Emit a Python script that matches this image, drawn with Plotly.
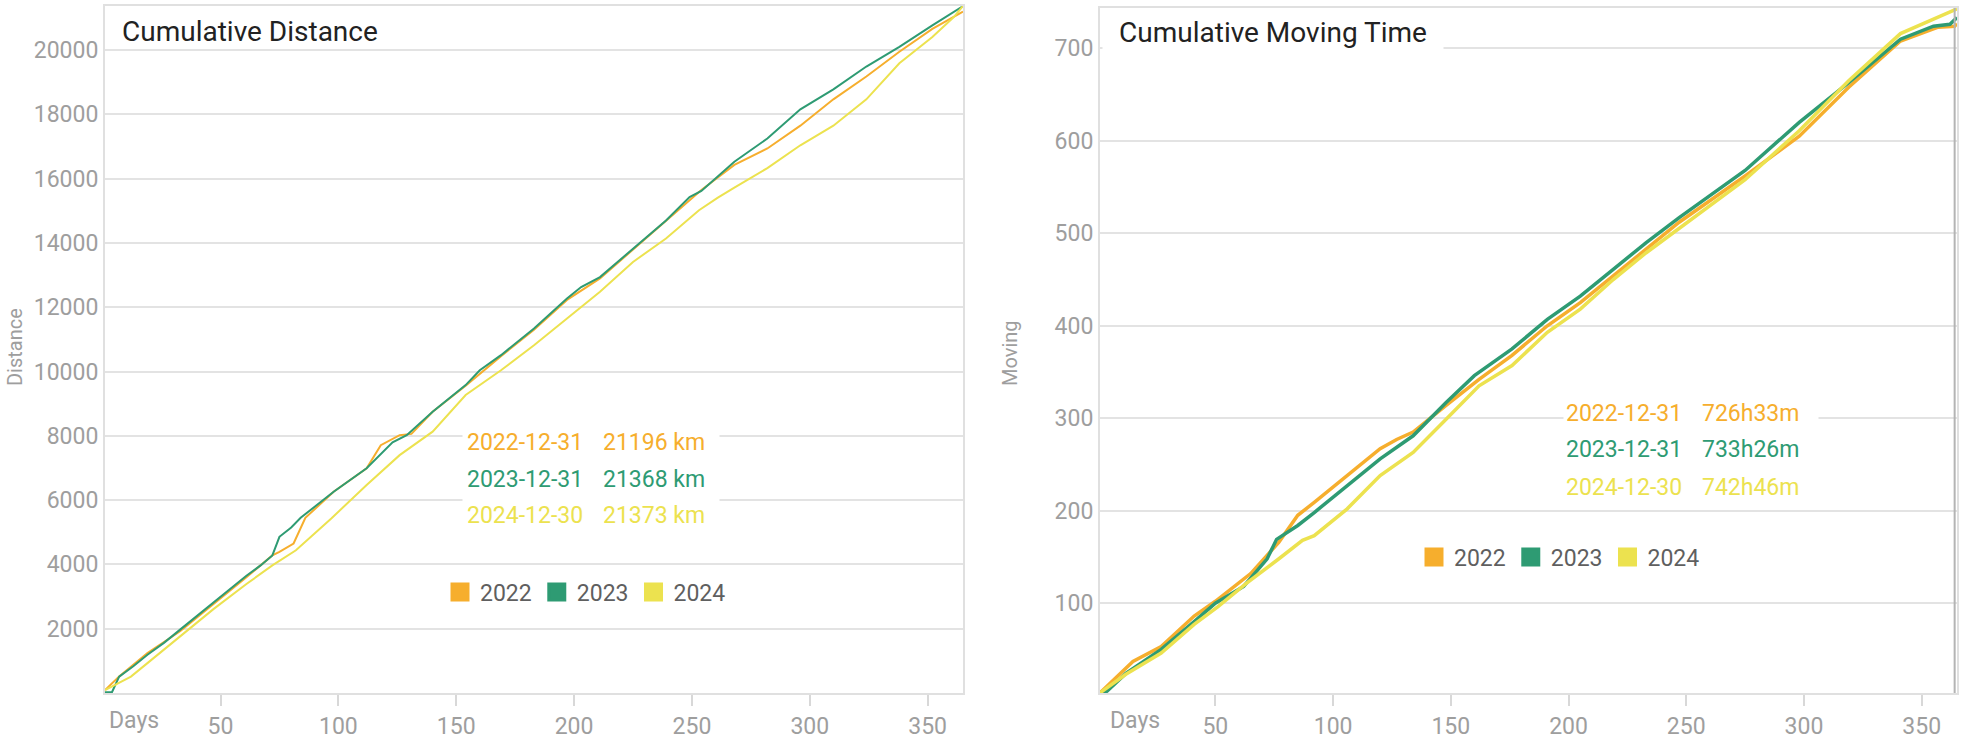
import plotly.graph_objects as go

W, H = 1978, 746

years = ["2022", "2023", "2024"]
colors = ["#F6AE2D", "#2E9B73", "#ECE24F"]
end_dates = ["2022-12-31", "2023-12-31", "2024-12-30"]
dist_totals = ["21196 km", "21368 km", "21373 km"]
time_totals = ["726h33m", "733h26m", "742h46m"]

# ---- Cumulative distance (km) ----
dist_days_2022 = [1, 7, 13, 19, 33, 47, 61, 72, 75, 81, 84, 86, 98, 112, 118, 126, 131, 140, 154, 169,
                  183, 197, 211, 225, 239, 254, 268, 282, 296, 310, 324, 338, 352, 361, 365]
dist_km_2022 = [90, 510, 880, 1240, 1930, 2760, 3600, 4280, 4390, 4650, 5120, 5450, 6260, 6990, 7710, 8020,
                8060, 8750, 9560, 10480, 11300, 12230, 12900, 13800, 14680, 15650, 16430, 16940, 17650,
                18470, 19180, 19950, 20660, 21020, 21196]

dist_days_2023 = [1, 4, 7, 13, 19, 26, 33, 40, 47, 54, 61, 67, 72, 75, 80, 84, 98, 112, 123, 129, 140, 154,
                  160, 169, 183, 197, 203, 211, 225, 239, 249, 254, 268, 282, 296, 310, 324, 338, 352, 365]
dist_km_2023 = [20, 30, 510, 830, 1190, 1560, 1980, 2400, 2820, 3240, 3650, 3970, 4280, 4860, 5150, 5450,
                6260, 6990, 7800, 8020, 8750, 9580, 10040, 10510, 11340, 12270, 12630, 12940, 13820, 14700,
                15430, 15620, 16530, 17250, 18160, 18780, 19490, 20100, 20770, 21368]

dist_days_2024 = [1, 5, 12, 19, 33, 47, 61, 72, 82, 97, 112, 126, 140, 154, 169, 183, 197, 211, 225, 239,
                  253, 261, 268, 282, 296, 310, 324, 338, 352, 361, 365]
dist_km_2024 = [90, 250, 510, 930, 1770, 2610, 3390, 3970, 4440, 5430, 6470, 7400, 8130, 9270, 10040, 10820,
                11650, 12480, 13410, 14140, 15020, 15410, 15720, 16330, 17040, 17650, 18470, 19590, 20410,
                21020, 21373]

# ---- Cumulative moving time (hours) ----
time_days_2022 = [1, 12, 15, 27, 41, 50, 65, 77, 85, 92, 106, 120, 127, 134, 148, 162, 176, 191, 205, 219,
                  233, 247, 275, 298, 319, 341, 357, 364, 365]
time_h_2022 = [3, 30, 37, 53, 86, 102, 132, 166, 195, 209, 238, 267, 277, 285, 314, 342, 368, 400, 425, 454,
               483, 512, 562, 605, 658, 708, 723, 724, 726.55]

time_days_2023 = [1, 4, 12, 27, 41, 50, 62, 72, 76, 85, 92, 106, 120, 134, 148, 160, 176, 191, 205, 219,
                  233, 247, 275, 298, 319, 341, 355, 362, 365]
time_h_2023 = [3, 4.7, 24, 50, 80, 100, 118, 148, 169, 184, 198, 227, 256, 281, 317, 346, 375, 407, 432, 461,
               490, 517, 568, 620, 663, 710, 724, 726, 733.43]

time_days_2024 = [1, 12, 27, 41, 51, 63, 77, 87, 92, 106, 120, 134, 148, 162, 176, 191, 205, 219, 233, 247,
                  275, 298, 319, 341, 365]
time_h_2024 = [3, 23, 46, 77, 96, 121, 148, 168, 173, 202, 238, 263, 299, 335, 357, 393, 418, 450, 479, 505,
               558, 611, 665, 716, 742.77]

x_ticks = [50, 100, 150, 200, 250, 300, 350]
dist_ticks = [2000, 4000, 6000, 8000, 10000, 12000, 14000, 16000, 18000, 20000]
time_ticks = [100, 200, 300, 400, 500, 600, 700]
cursor_day = 364

FONT = "Roboto, 'Open Sans', sans-serif"
GRAY = "#9e9e9e"


def xp(px):
    return px / W


def yp(py):
    return 1 - py / H


dist_series = [(dist_days_2022, dist_km_2022), (dist_days_2023, dist_km_2023), (dist_days_2024, dist_km_2024)]
time_series = [(time_days_2022, time_h_2022), (time_days_2023, time_h_2023), (time_days_2024, time_h_2024)]

fig = go.Figure()
for i, (d, v) in enumerate(dist_series):
    fig.add_trace(go.Scatter(x=d, y=v, mode="lines", line=dict(color=colors[i], width=2),
                             xaxis="x", yaxis="y", showlegend=False, hoverinfo="skip"))
for i, (d, v) in enumerate(time_series):
    fig.add_trace(go.Scatter(x=d, y=v, mode="lines", line=dict(color=colors[i], width=3.5),
                             xaxis="x2", yaxis="y2", showlegend=False, hoverinfo="skip"))
# legend entries
for lg, xa, ya in (("legend", "x", "y"), ("legend2", "x2", "y2")):
    for i, yr in enumerate(years):
        fig.add_trace(go.Scatter(x=[None], y=[None], mode="markers", name=yr, legend=lg,
                                 marker=dict(symbol="square", size=16, color=colors[i],
                                             line=dict(color=colors[i], width=3)),
                                 xaxis=xa, yaxis=ya, showlegend=True))

axis_common = dict(showline=True, mirror=True, linecolor="#e0e0e0", linewidth=2, zeroline=False,
                   tickfont=dict(family=FONT, size=23, color=GRAY))
xcommon = dict(axis_common, range=[1, 365], tickvals=x_ticks, showgrid=False, ticks="outside",
               ticklen=11, tickwidth=2, tickcolor="#d8d8d8")
ycommon = dict(axis_common, showgrid=True, gridcolor="#e3e3e3", gridwidth=2, ticks="", tickformat="d")

fig.update_layout(
    width=W, height=H, margin=dict(l=0, r=0, t=0, b=0),
    paper_bgcolor="white", plot_bgcolor="white",
    font=dict(family=FONT, size=23, color=GRAY),
    xaxis=dict(xcommon, domain=[xp(105), xp(963)], anchor="y"),
    yaxis=dict(ycommon, domain=[yp(693), yp(6)], range=[0, 21373], tickvals=dist_ticks,
               ticktext=[str(v) for v in dist_ticks], anchor="x"),
    xaxis2=dict(xcommon, domain=[xp(1100), xp(1957)], anchor="y2"),
    yaxis2=dict(ycommon, domain=[yp(693), yp(8)], range=[2.8, 743.7], tickvals=time_ticks, anchor="x2"),
    legend=dict(orientation="h", x=xp(440), y=yp(592), xanchor="left", yanchor="middle",
                font=dict(family=FONT, size=23, color="#5f5f5f"), bgcolor="rgba(0,0,0,0)"),
    legend2=dict(orientation="h", x=xp(1414), y=yp(557), xanchor="left", yanchor="middle",
                 font=dict(family=FONT, size=23, color="#5f5f5f"), bgcolor="rgba(0,0,0,0)"),
    showlegend=True,
)

ann = []


def box(x0, y0, x1, y1):
    ann.append(dict(xref="paper", yref="paper", x=xp(x0), y=yp(y0), xanchor="left", yanchor="top",
                    text=" ", width=x1 - x0, height=y1 - y0, borderpad=0, bgcolor="white",
                    showarrow=False))


def text(x, y, s, color, size=23, anchor="left", angle=0):
    ann.append(dict(xref="paper", yref="paper", x=xp(x), y=yp(y), xanchor=anchor, yanchor="middle",
                    text=s, showarrow=False, textangle=angle, borderpad=0,
                    font=dict(family=FONT, size=size, color=color)))


# titles
text(121, 31, "Cumulative Distance", "#222222", size=28)
ann.append(dict(xref="paper", yref="paper", x=xp(1102), y=yp(10), xanchor="left", yanchor="top",
                text="Cumulative Moving Time", width=336, height=38, borderpad=2, bgcolor="white",
                align="center", valign="middle", showarrow=False,
                font=dict(family=FONT, size=28, color="#222222")))

# summary tables
box(462, 421, 718, 537)
box(1563, 394, 1817, 508)
for i in range(3):
    text(466, 443 + 36 * i, end_dates[i], colors[i])
    text(602, 443 + 36 * i, dist_totals[i], colors[i])
    text(1565, 413 + 37 * i, end_dates[i], colors[i])
    text(1701, 413 + 37 * i, time_totals[i], colors[i])

# axis labels
text(15, 347, "Distance", GRAY, size=20, anchor="center", angle=-90)
text(1010, 353, "Moving", GRAY, size=20, anchor="center", angle=-90)
text(108, 720, "Days", GRAY)
text(1109, 720, "Days", GRAY)

fig.update_layout(annotations=ann)

fig.add_shape(type="line", xref="x2", yref="paper", x0=cursor_day, x1=cursor_day, y0=yp(693), y1=yp(8),
              line=dict(color="#b4b4b4", width=2))

fig.write_html("out.html", config={"displayModeBar": False},
               post_script="document.body.style.margin='0';document.body.style.overflow='hidden';")
